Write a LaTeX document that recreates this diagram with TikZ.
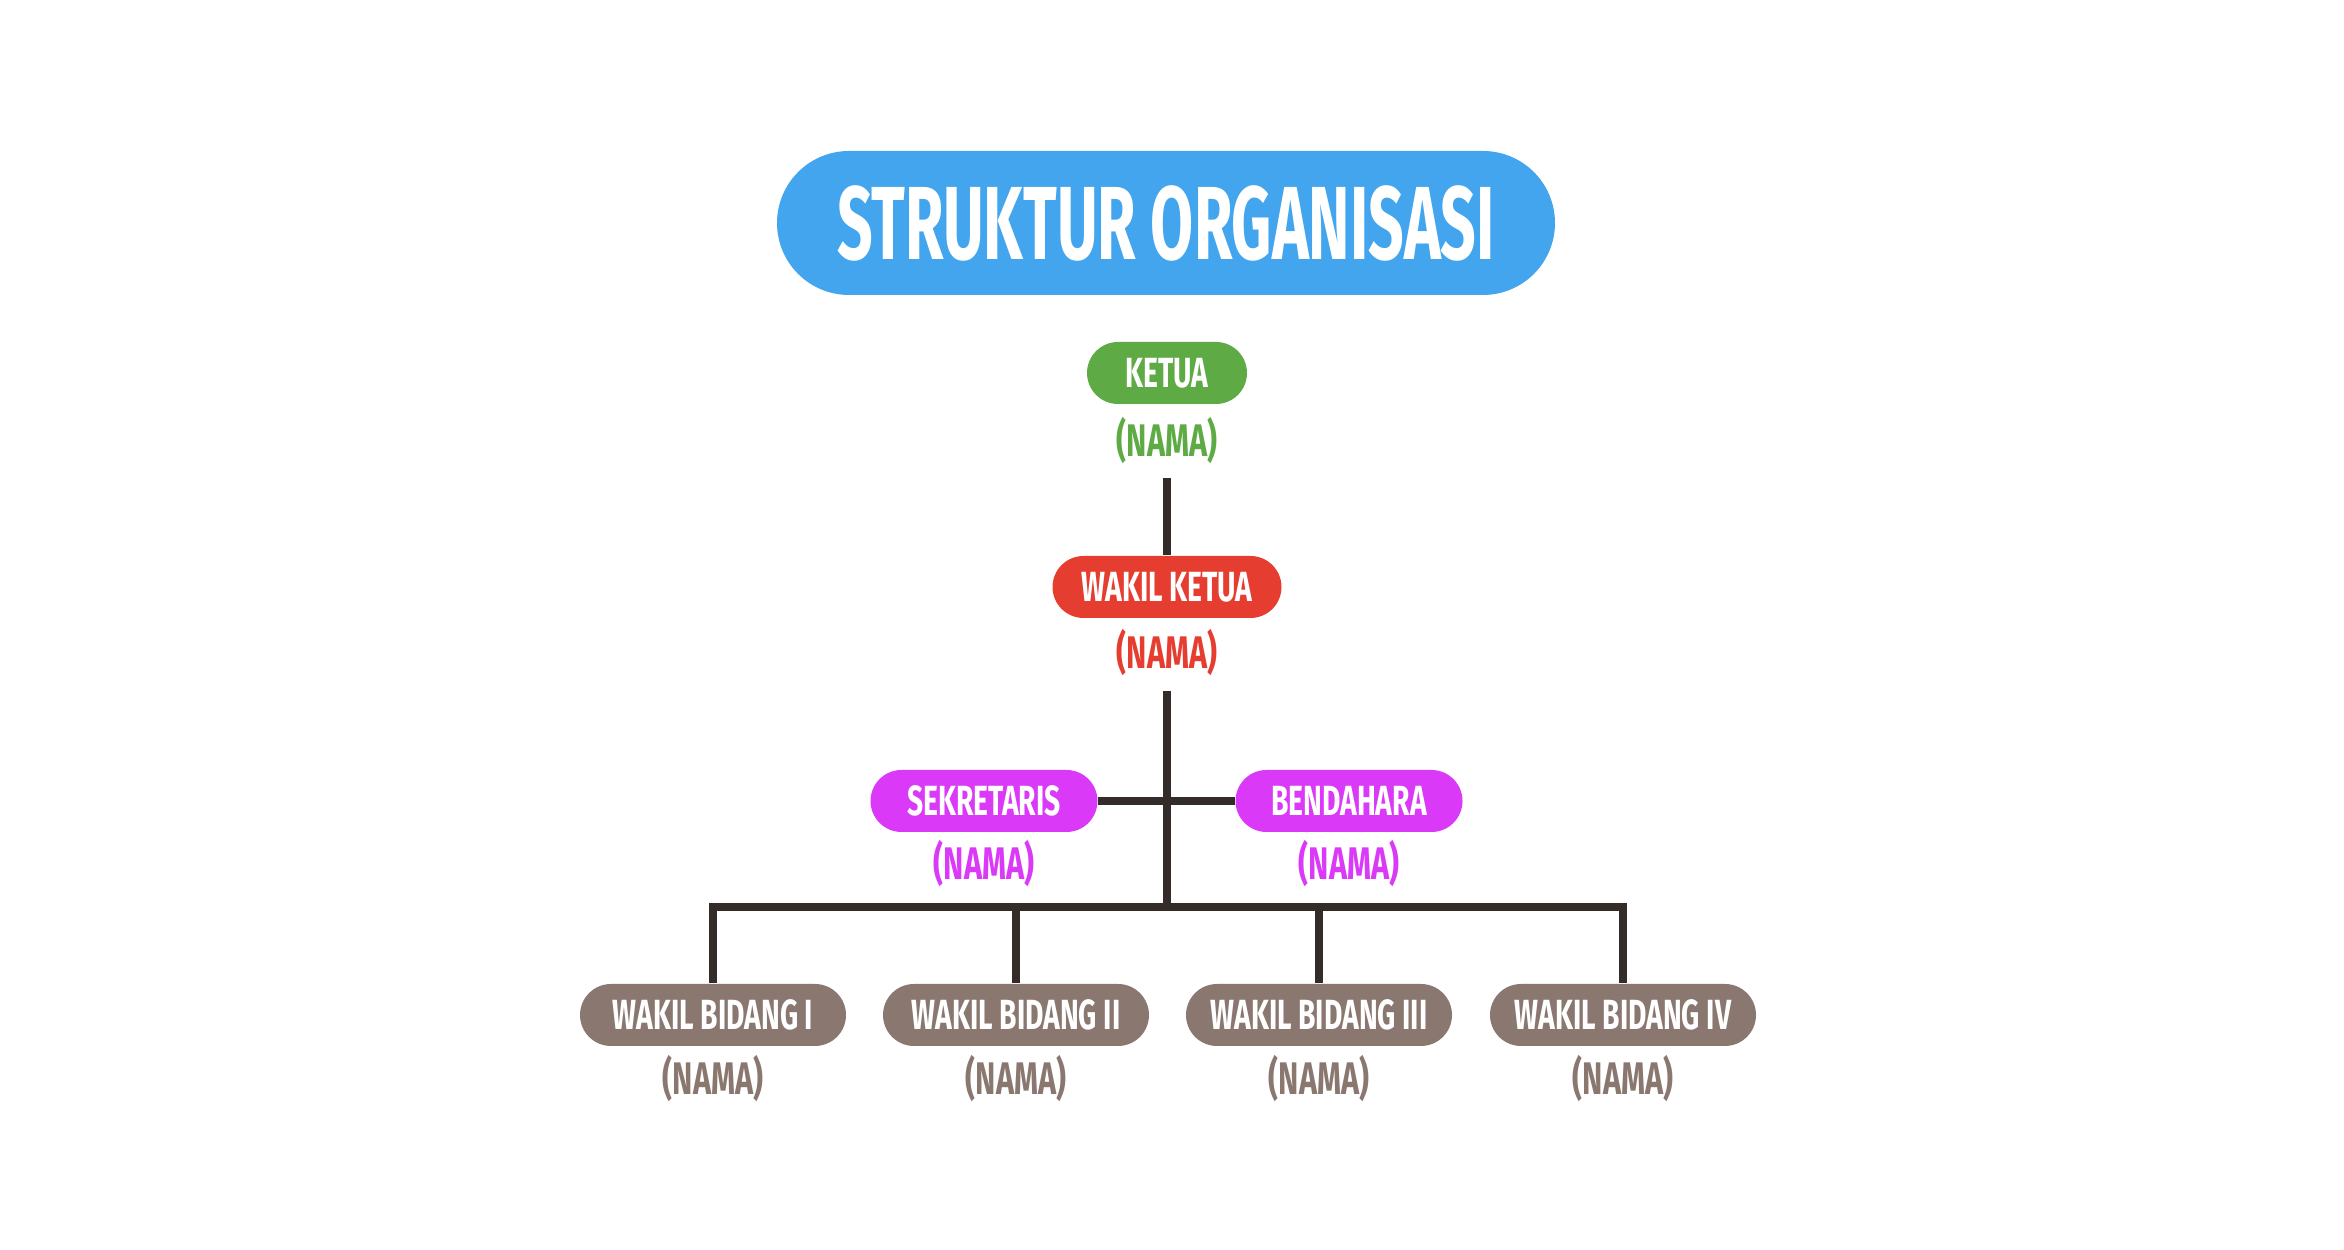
\documentclass[tikz,border=0pt]{standalone}
\usepackage{fontspec}
\setmainfont{Fira Sans}[FakeStretch=0.67]
\newfontfamily\hurufjudul{Fira Sans}[FakeStretch=0.6]
\definecolor{birujudul}{HTML}{42A5EE}
\definecolor{hijau}{HTML}{5EAB45}
\definecolor{merah}{HTML}{E53D30}
\definecolor{ungu}{HTML}{DA39F7}
\definecolor{coklat}{HTML}{8A7870}
\definecolor{warnagaris}{HTML}{342C29}
\tikzset{
	jabatan/.style={rectangle, rounded corners=3.1mm, minimum height=6.2mm, inner sep=0pt, text=white, font=\fontsize{12}{12}\selectfont\bfseries},
	nama/.style={inner sep=0pt, font=\fontsize{13}{13}\selectfont\bfseries},
	penghubung/.style={line width=0.85mm, color=warnagaris}
}
\begin{document}
\begin{tikzpicture}[line join=miter, x=0.1mm, y=-0.1mm]
			\useasboundingbox (0,0) rectangle (2344,1250);
			\node[jabatan, fill=birujudul, minimum width=77.8mm, minimum height=14.4mm, rounded corners=7.2mm, font=\hurufjudul\fontsize{29.6}{30}\selectfont\bfseries] (judul) at (1166,223) {STRUKTUR ORGANISASI};
			\node[jabatan, fill=hijau, minimum width=16mm] (ketua) at (1167,373) {KETUA};
			\node[nama, text=hijau] (namaketua) at (1167,441) {(NAMA)};
			\node[jabatan, fill=merah, minimum width=22.9mm] (wakil) at (1167,587) {WAKIL KETUA};
			\node[nama, text=merah] (namawakil) at (1167,653) {(NAMA)};
			\node[jabatan, fill=ungu, minimum width=22.7mm] (sekretaris) at (984,801) {SEKRETARIS};
			\node[nama, text=ungu] (namasekretaris) at (984,864) {(NAMA)};
			\node[jabatan, fill=ungu, minimum width=22.7mm] (bendahara) at (1349,801) {BENDAHARA};
			\node[nama, text=ungu] (namabendahara) at (1349,864) {(NAMA)};
			\node[jabatan, fill=coklat, minimum width=26.6mm] (bidang1) at (713,1015) {WAKIL BIDANG I};
			\node[nama, text=coklat] (namabidang1) at (713,1079) {(NAMA)};
			\node[jabatan, fill=coklat, minimum width=26.6mm] (bidang2) at (1016,1015) {WAKIL BIDANG II};
			\node[nama, text=coklat] (namabidang2) at (1016,1079) {(NAMA)};
			\node[jabatan, fill=coklat, minimum width=26.6mm] (bidang3) at (1319,1015) {WAKIL BIDANG III};
			\node[nama, text=coklat] (namabidang3) at (1319,1079) {(NAMA)};
			\node[jabatan, fill=coklat, minimum width=26.6mm] (bidang4) at (1623,1015) {WAKIL BIDANG IV};
			\node[nama, text=coklat] (namabidang4) at (1623,1079) {(NAMA)};
			\coordinate (ujungketua) at (1167,478);
			\coordinate (ujungwakil) at (1167,691);
			\coordinate (cabang) at (1167,907);
			\draw[penghubung] (ujungketua) -- (wakil.north);
			\draw[penghubung] (ujungwakil) -- (cabang);
			\draw[penghubung] (sekretaris.east) -- (bendahara.west);
			\draw[penghubung] (bidang1.north) -- (bidang1.north |- cabang) -- (bidang4.north |- cabang) -- (bidang4.north);
			\draw[penghubung] (bidang2.north) -- (bidang2.north |- cabang);
			\draw[penghubung] (bidang3.north) -- (bidang3.north |- cabang);
\end{tikzpicture}
\end{document}
